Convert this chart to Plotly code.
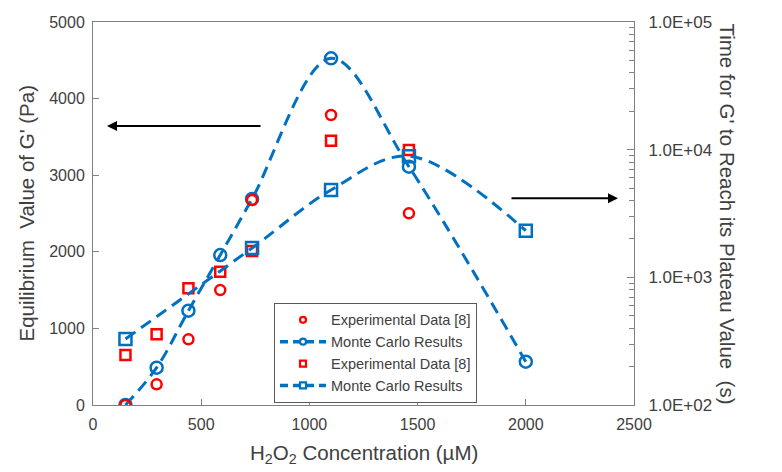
import plotly.graph_objects as go

# H2O2 concentration (uM)
CONC = [150, 294, 441, 588, 735, 1100, 1460, 2000]
CONC_MC_T = [150, 735, 1100, 1460, 2000]

# equilibrium G' (Pa), left axis
EXP_G = [0, 270, 857, 1500, 2676, 3786, 2502]
MC_G = [0, 487, 1231, 1958, 2690, 4526, 3111, 565]

# time to plateau (s), right log axis
EXP_T = [246, 358, 820, 1107, 1607, 11740, 9930]
MC_T = [329, 1696, 4830, 8900, 2317]

RIGHT_TICKS = [1e2, 1e3, 1e4, 1e5]
RIGHT_TICKTEXT = ["1.0E+02", "1.0E+03", "1.0E+04", "1.0E+05"]

BLUE = "#0070C0"
RED = "#FF0000"
GREY = "#404040"
AXIS = "#808080"
FONT = "Liberation Sans, Arial, sans-serif"
DASH = "12px,7px"

fig = go.Figure()

fig.add_trace(go.Scatter(
    x=CONC, y=MC_G, mode="lines+markers", showlegend=False,
    line=dict(color=BLUE, width=3, dash=DASH, shape="spline", smoothing=1),
    marker=dict(symbol="circle-open", size=12, color=BLUE, line=dict(width=2.5)),
))
fig.add_trace(go.Scatter(
    x=CONC[:len(EXP_G)], y=EXP_G, mode="markers", showlegend=False,
    marker=dict(symbol="circle-open", size=10, color=RED, line=dict(width=2.5)),
))
fig.add_trace(go.Scatter(
    x=CONC[:len(EXP_T)], y=EXP_T, yaxis="y2", mode="markers", showlegend=False,
    marker=dict(symbol="square-open", size=10, color=RED, line=dict(width=2.5)),
))
fig.add_trace(go.Scatter(
    x=CONC_MC_T, y=MC_T, yaxis="y2", mode="lines+markers", showlegend=False,
    line=dict(color=BLUE, width=3, dash=DASH, shape="spline", smoothing=1),
    marker=dict(symbol="square-open", size=12, color=BLUE, line=dict(width=2.5)),
))

# legend entries with small symbols, like the original
legend_items = [
    ("Experimental Data [8]", "markers", "circle-open", RED),
    ("Monte Carlo Results", "lines+markers", "circle-open", BLUE),
    ("Experimental Data [8]", "markers", "square-open", RED),
    ("Monte Carlo Results", "lines+markers", "square-open", BLUE),
]
for name, mode, sym, col in legend_items:
    fig.add_trace(go.Scatter(
        x=[None], y=[None], name=name, mode=mode,
        line=dict(color=col, width=3.5, dash="8px,5px"),
        marker=dict(symbol=sym, size=6, color=col, line=dict(width=2.2)),
    ))

fig.update_layout(
    width=782, height=472,
    margin=dict(l=93, r=148, t=22, b=67),
    paper_bgcolor="white", plot_bgcolor="white",
    font=dict(family=FONT, color=GREY, size=16),
    xaxis=dict(
        range=[0, 2500], dtick=500, ticks="inside", ticklen=6,
        tickcolor=AXIS, showline=True, linecolor=AXIS, mirror=True,
        showgrid=False, zeroline=False, tickfont=dict(size=16),
        ticklabelstandoff=5,
    ),
    yaxis=dict(
        range=[0, 5000], dtick=1000, ticks="inside", ticklen=6,
        tickcolor=AXIS, showline=True, linecolor=AXIS,
        showgrid=False, zeroline=False, tickfont=dict(size=16),
        ticklabelstandoff=4,
    ),
    yaxis2=dict(
        type="log", range=[2, 5], overlaying="y", side="right",
        tickvals=RIGHT_TICKS, ticktext=RIGHT_TICKTEXT,
        ticks="inside", ticklen=7, tickcolor=AXIS,
        minor=dict(ticks="inside", ticklen=5, tickcolor=AXIS, dtick="D1"),
        showline=True, linecolor=AXIS, showgrid=False, zeroline=False,
        tickfont=dict(size=17), ticklabelstandoff=10,
    ),
    legend=dict(
        x=0.3346, y=0.136, xanchor="left", yanchor="middle",
        bgcolor="white", bordercolor="#595959", borderwidth=1,
        font=dict(size=14.5, color=GREY), tracegroupgap=0, itemwidth=46,
    ),
    annotations=[
        dict(text="H<sub>2</sub>O<sub>2</sub> Concentration (µM)",
             xref="paper", yref="paper", x=0.5, y=-0.128, xanchor="center",
             yanchor="middle", showarrow=False, font=dict(size=20.5, color=GREY)),
        dict(text="Equilibrium  Value of G' (Pa)", textangle=-90,
             xref="paper", yref="paper", x=-0.122, y=0.5, xanchor="center",
             yanchor="middle", showarrow=False, font=dict(size=20.5, color=GREY)),
        dict(text="Time for G' to Reach its Plateau Value  (s)", textangle=90,
             xref="paper", yref="paper", x=1.172, y=0.5, xanchor="center",
             yanchor="middle", showarrow=False, font=dict(size=20.5, color=GREY)),
        dict(xref="paper", yref="paper", x=0.0259, y=0.7285, ax=155, ay=0,
             text="", showarrow=True, arrowhead=2, arrowsize=1, arrowwidth=2,
             arrowcolor="black", standoff=0),
        dict(xref="paper", yref="paper", x=0.9704, y=0.5397, ax=-108, ay=0,
             text="", showarrow=True, arrowhead=2, arrowsize=1, arrowwidth=2,
             arrowcolor="black", standoff=0),
    ],
)

# drop the page's default body margin so the figure fills the window exactly
fig.write_html("out.html", config={"displayModeBar": False},
               post_script="document.body.style.margin='0';")
